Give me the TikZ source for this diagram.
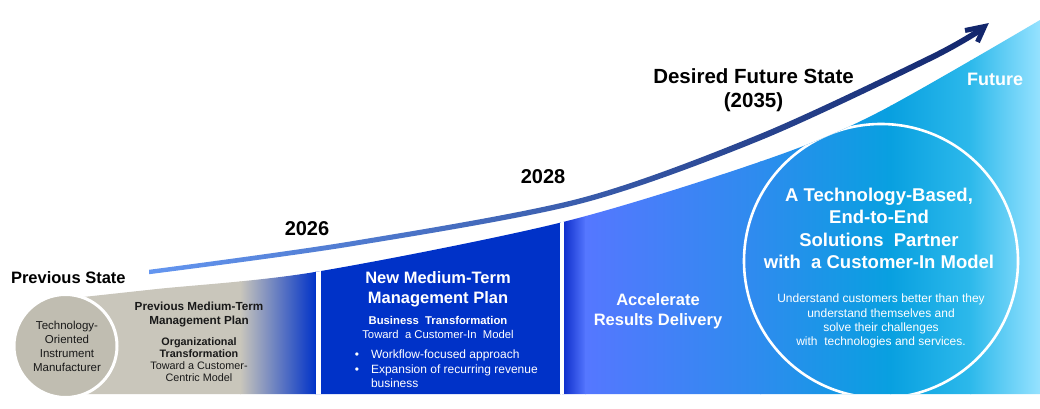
\documentclass[tikz,border=0pt]{standalone}
\usepackage{fontspec}
\setmainfont{Liberation Sans}
\definecolor{grayA}{RGB}{201,198,187}
\definecolor{grayC}{RGB}{192,189,177}
\definecolor{blueB}{RGB}{0,50,200}
\definecolor{cA}{RGB}{10,42,200}
\definecolor{cB}{RGB}{85,119,255}
\definecolor{cC}{RGB}{45,140,238}
\definecolor{cD}{RGB}{8,160,224}
\definecolor{cE}{RGB}{45,185,235}
\definecolor{cF}{RGB}{150,226,255}
\definecolor{arrA}{RGB}{100,150,240}
\definecolor{arrB}{RGB}{18,38,108}
\definecolor{darktxt}{RGB}{25,25,25}
\tikzset{
  txt/.style={inner sep=0pt, outer sep=0pt},
  bigblack/.style={txt, font=\bfseries\fontsize{20}{23.5}\selectfont, text=black},
  whitetitle/.style={txt, align=center, font=\bfseries\fontsize{16.5}{20}\selectfont, text=white},
  whitesmall/.style={txt, font=\fontsize{12}{14.4}\selectfont, text=white},
}
\begin{document}
\begin{tikzpicture}[x=1pt,y=-1pt]
\useasboundingbox (0,0) rectangle (1040,409);
\fill[white] (0,0) rectangle (1040,409);

% main rising shape
\begin{scope}
\clip (65,394) -- plot[smooth] coordinates {(65,299) (157,289) (315,272) (563,222) (765,160) (877,113) (1040,20)} -- (1040,394) -- cycle;
\fill[grayA] (60,200) rectangle (241,400);
\shade[left color=grayA, right color=blueB] (240,200) rectangle (316,400);
\fill[blueB] (315,150) rectangle (561,400);
\shade[left color=cA, right color=cB] (562,100) rectangle (586,400);
\shade[left color=cB, right color=cC] (585,100) rectangle (761,400);
\shade[left color=cC, right color=cD] (760,50) rectangle (891,400);
\shade[left color=cD, right color=cE] (890,0) rectangle (971,400);
\shade[left color=cE, right color=cF] (970,0) rectangle (1040,400);
\fill[white] (315.5,150) rectangle (320.5,400);
\fill[white] (559.5,150) rectangle (563.5,400);
\draw[white, line width=2.6pt] (881,261) circle[radius=137pt];
\end{scope}

% previous state circle
\fill[grayC, draw=white, line width=3pt] (65.5,346) circle[radius=51.5pt];

% rising arrow
\shade[left color=arrA, right color=arrB]
  plot[smooth] coordinates {(149,269.8) (350,241.5) (580,198.3) (760,134) (930,55) (982,25.5)}
  -- plot[smooth] coordinates {(984,31) (930,61.5) (760,140.5) (580,203.8) (350,246.5) (149,274.2)}
  -- cycle;
\draw[arrB, line width=5pt, line join=miter] (965,30.5) -- (984.5,26.5) -- (977.5,42);

% labels above
\node[txt, anchor=base west, font=\bfseries\fontsize{16.5}{20}\selectfont] (prev) at (11,283.5) {Previous State};
\node[bigblack, anchor=base] (y26) at (307,235) {2026};
\node[bigblack, anchor=base] (y28) at (543,183) {2028};
\node[bigblack, anchor=north, align=center, font=\bfseries\fontsize{20.5}{23.5}\selectfont] (dfs) at (753.5,69) {Desired Future State\\(2035)};
\node[txt, anchor=base, text=white, font=\bfseries\fontsize{18}{22}\selectfont] (fut) at (995,86) {Future};

% previous state texts
\node[txt, anchor=north, align=center, text=darktxt, font=\fontsize{11.5}{14.3}\selectfont] (tech) at (67,320.7) {Technology-\\Oriented\\Instrument\\Manufacturer};
\node[txt, anchor=north, align=center, text=darktxt, font=\bfseries\fontsize{11.7}{14}\selectfont] (pplan) at (199,301.7) {Previous Medium-Term\\Management Plan};
\node[txt, anchor=north, align=center, text=darktxt, font=\fontsize{10.8}{12.1}\selectfont] (org) at (199,337.3) {\textbf{Organizational}\\\textbf{Transformation}\\Toward a Customer-\\Centric Model};

% new plan texts
\node[whitetitle, anchor=north] (nplan) at (438,271.7) {New Medium-Term\\Management Plan};
\node[txt, anchor=north, align=center, text=white, font=\fontsize{11.3}{13.4}\selectfont] (bt) at (438,316.7) {\textbf{Business\ \ Transformation}\\Toward\ \ a Customer-In\ \ Model};
\node[whitesmall, anchor=base] (b1) at (357,358.6) {•};
\node[whitesmall, anchor=base] (b2) at (357,373) {•};
\node[whitesmall, anchor=base west] (l1) at (371,358.6) {Workflow-focused approach};
\node[whitesmall, anchor=base west] (l2) at (371,373) {Expansion of recurring revenue};
\node[whitesmall, anchor=base west] (l3) at (371,387.3) {business};

% accelerate
\node[whitetitle, anchor=north] (acc) at (658,294) {Accelerate\\Results Delivery};

% future circle texts
\node[txt, anchor=north, align=center, text=white, font=\bfseries\fontsize{18.5}{22.2}\selectfont] (goal) at (879,188.3) {A Technology-Based,\\End-to-End\\Solutions\ \ Partner\\with\ \ a Customer-In Model};
\node[whitesmall, anchor=north, align=center] (under) at (881,294) {Understand customers better than they\\understand themselves and\\solve their challenges\\with\ \ technologies and services.};
\end{tikzpicture}
\end{document}
